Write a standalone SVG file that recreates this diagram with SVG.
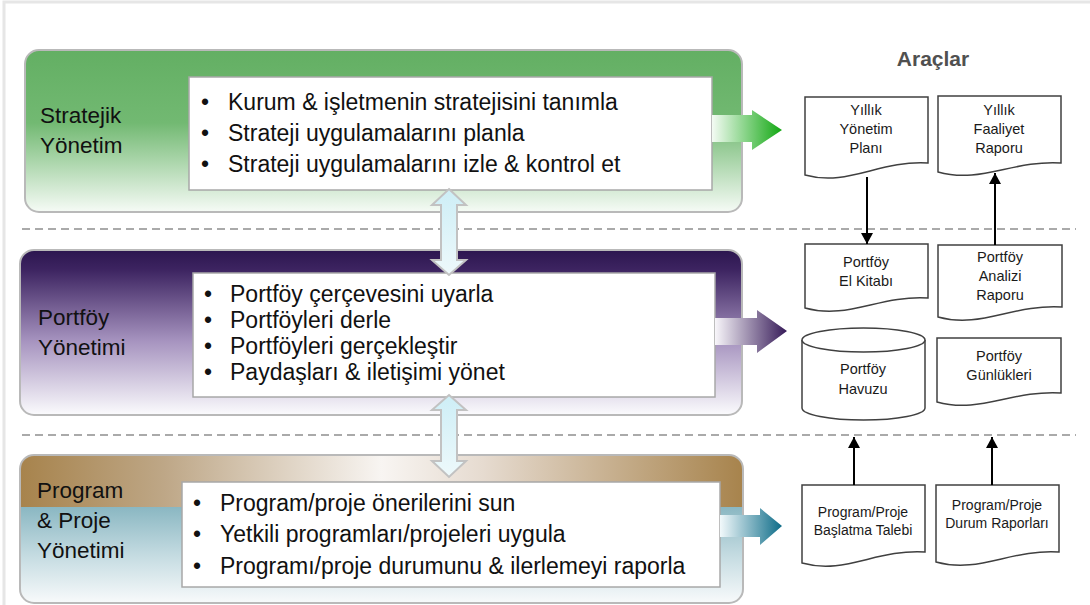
<svg xmlns="http://www.w3.org/2000/svg" width="1090" height="605" viewBox="0 0 1090 605">
  <defs>
    <linearGradient id="gGreen" x1="0" y1="0" x2="0" y2="1">
      <stop offset="0" stop-color="#63af63"/>
      <stop offset="0.45" stop-color="#72b972"/>
      <stop offset="1" stop-color="#f6fbf6"/>
    </linearGradient>
    <linearGradient id="gPurple" x1="0" y1="0" x2="0" y2="1">
      <stop offset="0" stop-color="#2c164f"/>
      <stop offset="0.12" stop-color="#3d2461"/>
      <stop offset="0.55" stop-color="#a693bf"/>
      <stop offset="1" stop-color="#fbfbfd"/>
    </linearGradient>
    <linearGradient id="gBrown" x1="0" y1="0" x2="1" y2="0">
      <stop offset="0" stop-color="#a7834c"/>
      <stop offset="0.2" stop-color="#bea787"/>
      <stop offset="0.5" stop-color="#f8f5f2"/>
      <stop offset="0.64" stop-color="#e6dbd0"/>
      <stop offset="1" stop-color="#a7834c"/>
    </linearGradient>
    <linearGradient id="gTeal" x1="0" y1="0" x2="0" y2="1">
      <stop offset="0" stop-color="#8ab7c2"/>
      <stop offset="0.5" stop-color="#c4dbe1"/>
      <stop offset="1" stop-color="#f8fafb"/>
    </linearGradient>
    <linearGradient id="aGreen" x1="0" y1="0" x2="1" y2="0">
      <stop offset="0" stop-color="#f4fbf4"/>
      <stop offset="1" stop-color="#12a812"/>
    </linearGradient>
    <linearGradient id="aPurple" x1="0" y1="0" x2="1" y2="0">
      <stop offset="0" stop-color="#f8f6fa"/>
      <stop offset="1" stop-color="#361a58"/>
    </linearGradient>
    <linearGradient id="aTeal" x1="0" y1="0" x2="1" y2="0">
      <stop offset="0" stop-color="#f2f9fb"/>
      <stop offset="1" stop-color="#0d6c88"/>
    </linearGradient>
    <linearGradient id="aCyan" x1="0" y1="0" x2="0" y2="1">
      <stop offset="0" stop-color="#cdeef6"/>
      <stop offset="1" stop-color="#eef9fb"/>
    </linearGradient>
    <marker id="ah" markerUnits="userSpaceOnUse" markerWidth="12" markerHeight="12" refX="11" refY="6" orient="auto">
      <path d="M0,0 L11,6 L0,12 Z" fill="#000"/>
    </marker>
  </defs>
  <style>
    .panel { stroke: #b9b9b9; stroke-width: 2; }
    .box { fill: #ffffff; stroke: #a8a8a8; stroke-width: 1.5; }
    .lbl { font-family: "Liberation Sans", Arial, sans-serif; font-size: 22.5px; fill: #111; }
    .item { font-family: "Liberation Sans", Arial, sans-serif; font-size: 23px; fill: #111; }
    .doc { fill: #ffffff; stroke: #404040; stroke-width: 1.5; }
    .dt { font-family: "Liberation Sans", Arial, sans-serif; font-size: 14.5px; fill: #1a1a1a; text-anchor: middle; }
    .dt2 { font-family: "Liberation Sans", Arial, sans-serif; font-size: 14px; fill: #1a1a1a; text-anchor: middle; }
    .sep { stroke: #8f8f8f; stroke-width: 1.5; stroke-dasharray: 8 5; fill: none; }
    .dbl { fill: url(#aCyan); stroke: #c2c2c2; stroke-width: 2; }
    .link { stroke: #000; stroke-width: 2; fill: none; marker-end: url(#ah); }
  </style>

  <!-- outer frame -->
  <path d="M4,605 V2 H1090" fill="none" stroke="#e6e6e6" stroke-width="3"/>

  <!-- section separators -->
  <line class="sep" x1="22" y1="229" x2="1076" y2="229"/>
  <line class="sep" x1="22" y1="435" x2="1076" y2="435"/>

  <!-- Stratejik Yönetim -->
  <g id="strategic">
    <rect class="panel" x="25" y="50" width="717" height="162" rx="14" fill="url(#gGreen)"/>
    <text class="lbl" x="40" y="123">Stratejik</text>
    <text class="lbl" x="40" y="153">Yönetim</text>
    <rect class="box" x="189" y="77" width="523" height="113"/>
    <g class="item">
      <text x="201" y="110">•</text><text x="228" y="110">Kurum &amp; işletmenin stratejisini tanımla</text>
      <text x="201" y="141">•</text><text x="228" y="141">Strateji uygulamalarını planla</text>
      <text x="201" y="172">•</text><text x="228" y="172">Strateji uygulamalarını izle &amp; kontrol et</text>
    </g>
    <path d="M712,115 H752 V110 L782,130 L752,150 V142 H712 Z" fill="url(#aGreen)"/>
  </g>

  <!-- Portföy Yönetimi -->
  <g id="portfolio">
    <rect class="panel" x="20" y="250" width="722" height="165" rx="14" fill="url(#gPurple)"/>
    <text class="lbl" x="38" y="325">Portföy</text>
    <text class="lbl" x="38" y="355">Yönetimi</text>
    <rect class="box" x="193" y="273" width="522" height="124"/>
    <g class="item">
      <text x="204" y="302">•</text><text x="230" y="302">Portföy çerçevesini uyarla</text>
      <text x="204" y="328">•</text><text x="230" y="328">Portföyleri derle</text>
      <text x="204" y="354">•</text><text x="230" y="354">Portföyleri gerçekleştir</text>
      <text x="204" y="380">•</text><text x="230" y="380">Paydaşları &amp; iletişimi yönet</text>
    </g>
    <path d="M715,318 H757 V310 L787,331 L757,353 V345 H715 Z" fill="url(#aPurple)"/>
  </g>

  <!-- Program & Proje Yönetimi -->
  <g id="program">
    <clipPath id="pClip">
      <rect x="20" y="455" width="723" height="148" rx="14"/>
    </clipPath>
    <g clip-path="url(#pClip)">
      <rect x="20" y="455" width="723" height="52" fill="url(#gBrown)"/>
      <rect x="20" y="507" width="723" height="96" fill="url(#gTeal)"/>
    </g>
    <rect x="20" y="455" width="723" height="148" rx="14" fill="none" class="panel"/>
    <text class="lbl" x="37" y="498">Program</text>
    <text class="lbl" x="37" y="528">&amp; Proje</text>
    <text class="lbl" x="37" y="558">Yönetimi</text>
    <rect class="box" x="182" y="482" width="538" height="105"/>
    <g class="item">
      <text x="193" y="511">•</text><text x="220" y="511">Program/proje önerilerini sun</text>
      <text x="193" y="542">•</text><text x="220" y="542">Yetkili programları/projeleri uygula</text>
      <text x="193" y="574">•</text><text x="220" y="574">Programı/proje durumunu &amp; ilerlemeyi raporla</text>
    </g>
    <path d="M720,515 H760 V508 L782,526 L760,545 V537 H720 Z" fill="url(#aTeal)"/>
  </g>

  <!-- two-way flows between levels -->
  <g id="flows">
    <path class="dbl" d="M449,189 L466,205 H457 V260 H466 L449,275 L432,260 H441 V205 H432 Z"/>
    <path class="dbl" d="M449,395 L466,410 H457 V461 H466 L449,477 L432,461 H441 V410 H432 Z"/>
  </g>

  <!-- tools column -->
  <text x="933" y="66" font-family="'Liberation Sans', Arial, sans-serif" font-size="21" font-weight="bold" fill="#505050" text-anchor="middle">Araçlar</text>

  <g id="doc-annual-plan">
    <path class="doc" d="M805,97 H928 V163 C879,160 848,187 805,175 Z"/>
    <text class="dt" x="866" y="115">Yıllık</text>
    <text class="dt" x="866" y="134">Yönetim</text>
    <text class="dt" x="866" y="153">Planı</text>
  </g>
  <g id="doc-annual-report">
    <path class="doc" d="M938,96 H1061 V163 C1012,160 981,184 938,172 Z"/>
    <text class="dt" x="999" y="115">Yıllık</text>
    <text class="dt" x="999" y="134">Faaliyet</text>
    <text class="dt" x="999" y="153">Raporu</text>
  </g>
  <g id="doc-handbook">
    <path class="doc" d="M805,244 H928 V298 C879,295 848,320 805,308 Z"/>
    <text class="dt" x="866" y="267">Portföy</text>
    <text class="dt" x="866" y="286">El Kitabı</text>
  </g>
  <g id="doc-analysis">
    <path class="doc" d="M938,245 H1062 V307 C1012,304 981,329 938,317 Z"/>
    <text class="dt" x="1000" y="262">Portföy</text>
    <text class="dt" x="1000" y="281">Analizi</text>
    <text class="dt" x="1000" y="300">Raporu</text>
  </g>
  <g id="db-pool">
    <path class="doc" d="M802,340 A61.5,12 0 0 1 925,340 V408 A61.5,12 0 0 1 802,408 Z"/>
    <path class="doc" d="M802,340 A61.5,12 0 0 0 925,340" fill="none"/>
    <text class="dt" x="863" y="374">Portföy</text>
    <text class="dt" x="863" y="394">Havuzu</text>
  </g>
  <g id="doc-logs">
    <path class="doc" d="M937,338 H1061 V393 C1011,390 980,414 937,402 Z"/>
    <text class="dt" x="999" y="361">Portföy</text>
    <text class="dt" x="999" y="380">Günlükleri</text>
  </g>
  <g id="doc-initiation">
    <path class="doc" d="M802,485 H925 V552 C876,549 845,575 802,563 Z"/>
    <text class="dt2" x="863" y="517">Program/Proje</text>
    <text class="dt2" x="863" y="535">Başlatma Talebi</text>
  </g>
  <g id="doc-status">
    <path class="doc" d="M936,485 H1059 V552 C1010,549 979,574 936,562 Z"/>
    <text class="dt2" x="997" y="510">Program/Proje</text>
    <text class="dt2" x="997" y="528">Durum Raporları</text>
  </g>

  <!-- connectors -->
  <g id="connectors">
    <line class="link" x1="867" y1="177" x2="867" y2="244"/>
    <line class="link" x1="995" y1="245" x2="995" y2="173"/>
    <line class="link" x1="854" y1="485" x2="854" y2="437"/>
    <line class="link" x1="992" y1="485" x2="992" y2="437"/>
  </g>
</svg>
